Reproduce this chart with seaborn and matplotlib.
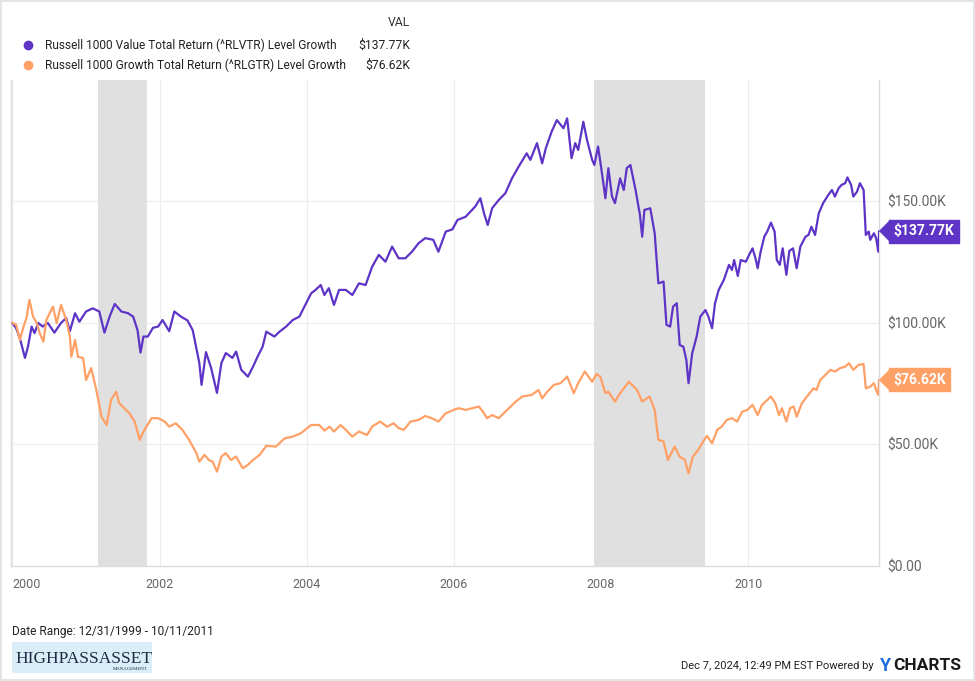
import pandas as pd
import seaborn as sns
import matplotlib.pyplot as plt
import matplotlib.transforms as mtransforms
from matplotlib.lines import Line2D
from matplotlib.patches import Rectangle

# levels in $K, dates as decimal years
value_years = [1999.997, 2000.05, 2000.10, 2000.17, 2000.21, 2000.26, 2000.30, 2000.35, 2000.41, 2000.48, 2000.57,
               2000.66, 2000.73, 2000.78, 2000.85, 2000.91, 2001.00, 2001.09, 2001.18, 2001.25, 2001.32, 2001.39,
               2001.48, 2001.57, 2001.64, 2001.70, 2001.74, 2001.78, 2001.84, 2001.91, 2001.98, 2002.04, 2002.13,
               2002.20, 2002.29, 2002.38, 2002.45, 2002.54, 2002.57, 2002.63, 2002.70, 2002.78, 2002.84, 2002.90,
               2002.99, 2003.04, 2003.11, 2003.20, 2003.27, 2003.33, 2003.40, 2003.45, 2003.56, 2003.63, 2003.72,
               2003.81, 2003.90, 2003.99, 2004.06, 2004.12, 2004.19, 2004.24, 2004.30, 2004.37, 2004.44, 2004.53,
               2004.62, 2004.71, 2004.80, 2004.89, 2004.98, 2005.07, 2005.16, 2005.25, 2005.34, 2005.43, 2005.52,
               2005.61, 2005.72, 2005.79, 2005.89, 2005.98, 2006.05, 2006.16, 2006.29, 2006.36, 2006.41, 2006.46,
               2006.52, 2006.61, 2006.70, 2006.79, 2006.88, 2006.99, 2007.04, 2007.13, 2007.20, 2007.25, 2007.33,
               2007.40, 2007.49, 2007.54, 2007.60, 2007.65, 2007.69, 2007.76, 2007.81, 2007.88, 2007.91, 2007.96,
               2008.00, 2008.06, 2008.10, 2008.15, 2008.19, 2008.26, 2008.31, 2008.35, 2008.40, 2008.47, 2008.53,
               2008.56, 2008.59, 2008.67, 2008.73, 2008.78, 2008.85, 2008.89, 2008.94, 2008.98, 2009.03, 2009.07,
               2009.12, 2009.16, 2009.19, 2009.24, 2009.30, 2009.35, 2009.42, 2009.46, 2009.51, 2009.55, 2009.60,
               2009.67, 2009.74, 2009.78, 2009.81, 2009.86, 2009.90, 2009.97, 2010.01, 2010.06, 2010.10, 2010.13,
               2010.17, 2010.22, 2010.26, 2010.31, 2010.36, 2010.39, 2010.43, 2010.47, 2010.52, 2010.56, 2010.61,
               2010.66, 2010.71, 2010.78, 2010.82, 2010.86, 2010.91, 2010.96, 2011.02, 2011.09, 2011.14, 2011.18,
               2011.23, 2011.27, 2011.32, 2011.35, 2011.40, 2011.43, 2011.48, 2011.52, 2011.57, 2011.60, 2011.64,
               2011.66, 2011.71, 2011.74, 2011.77, 2011.78]
value_levels = [100.0, 97.8, 93.7, 85.6, 90.2, 98.5, 95.8, 100.0, 98.5, 100.0, 96.0,
                100.0, 102.0, 96.6, 104.0, 100.5, 104.7, 106.0, 104.7, 96.0, 102.6, 107.8,
                104.7, 104.0, 102.6, 97.0, 87.8, 94.4, 94.4, 98.0, 98.5, 101.2, 96.6,
                104.7, 102.6, 101.0, 97.0, 83.5, 74.5, 88.0, 81.5, 71.2, 83.5, 87.6,
                85.6, 88.2, 80.7, 77.9, 82.0, 86.0, 90.2, 96.4, 94.4, 96.4, 98.5,
                101.2, 102.6, 108.0, 112.2, 113.6, 115.6, 111.5, 114.3, 107.4, 113.6, 113.6,
                111.5, 116.3, 115.6, 123.2, 128.0, 125.2, 131.4, 126.6, 126.6, 129.3, 132.8,
                134.9, 134.2, 129.3, 137.6, 138.5, 142.4, 143.7, 147.9, 151.3, 145.1, 140.3,
                147.2, 150.6, 153.4, 159.5, 164.3, 169.8, 167.1, 174.0, 165.7, 171.9, 178.8,
                183.5, 180.1, 184.2, 167.8, 174.0, 171.2, 182.8, 175.3, 167.1, 165.0, 172.6,
                164.4, 151.3, 163.7, 152.0, 149.3, 159.5, 154.7, 163.7, 165.0, 154.7, 144.4,
                135.5, 146.5, 147.2, 136.9, 116.3, 117.0, 99.2, 98.5, 106.7, 108.1, 90.9,
                90.2, 84.8, 75.2, 87.5, 94.4, 102.6, 105.3, 102.6, 97.8, 108.1, 113.6,
                117.7, 123.9, 121.8, 125.9, 119.3, 125.9, 125.2, 127.8, 130.7, 126.6, 122.5,
                129.3, 135.5, 137.6, 141.3, 137.6, 125.9, 123.9, 130.7, 119.8, 129.6, 130.7,
                122.5, 131.4, 135.5, 136.2, 139.6, 136.2, 145.1, 149.3, 152.7, 154.7, 152.0,
                155.4, 156.8, 157.5, 159.9, 156.8, 152.0, 154.0, 157.5, 154.7, 136.2, 137.6,
                134.2, 136.9, 134.9, 129.3, 137.77]

growth_years = [1999.997, 2000.05, 2000.10, 2000.15, 2000.19, 2000.23, 2000.28, 2000.33, 2000.37, 2000.42, 2000.46,
                2000.55, 2000.60, 2000.66, 2000.73, 2000.78, 2000.80, 2000.85, 2000.89, 2000.96, 2001.00, 2001.07,
                2001.14, 2001.21, 2001.28, 2001.34, 2001.41, 2001.45, 2001.52, 2001.59, 2001.66, 2001.73, 2001.77,
                2001.82, 2001.89, 2001.98, 2002.07, 2002.13, 2002.22, 2002.31, 2002.40, 2002.50, 2002.54, 2002.61,
                2002.67, 2002.72, 2002.78, 2002.84, 2002.90, 2002.97, 2003.04, 2003.13, 2003.20, 2003.27, 2003.36,
                2003.45, 2003.58, 2003.70, 2003.81, 2003.92, 2004.06, 2004.17, 2004.24, 2004.31, 2004.37, 2004.46,
                2004.53, 2004.62, 2004.71, 2004.82, 2004.89, 2005.00, 2005.09, 2005.18, 2005.25, 2005.32, 2005.41,
                2005.52, 2005.61, 2005.70, 2005.79, 2005.89, 2006.02, 2006.07, 2006.16, 2006.34, 2006.41, 2006.45,
                2006.52, 2006.61, 2006.70, 2006.84, 2006.93, 2007.06, 2007.15, 2007.20, 2007.27, 2007.36, 2007.45,
                2007.54, 2007.63, 2007.69, 2007.78, 2007.88, 2007.94, 2007.99, 2008.06, 2008.10, 2008.19, 2008.26,
                2008.38, 2008.49, 2008.56, 2008.66, 2008.73, 2008.78, 2008.85, 2008.91, 2009.00, 2009.07, 2009.14,
                2009.19, 2009.25, 2009.32, 2009.39, 2009.44, 2009.51, 2009.58, 2009.64, 2009.71, 2009.78, 2009.85,
                2009.92, 2009.99, 2010.06, 2010.13, 2010.19, 2010.26, 2010.31, 2010.37, 2010.42, 2010.46, 2010.52,
                2010.57, 2010.62, 2010.66, 2010.73, 2010.80, 2010.89, 2010.93, 2010.98, 2011.05, 2011.12, 2011.18,
                2011.25, 2011.32, 2011.37, 2011.43, 2011.50, 2011.57, 2011.60, 2011.66, 2011.71, 2011.74, 2011.77,
                2011.78]
growth_levels = [100.0, 99.2, 93.0, 98.5, 102.0, 109.5, 102.6, 99.9, 95.8, 92.3, 101.2,
                 106.7, 99.9, 107.4, 101.2, 94.4, 86.1, 93.0, 86.1, 85.5, 76.5, 81.4,
                 72.4, 61.4, 58.0, 68.3, 71.7, 67.0, 64.9, 62.8, 59.4, 51.9, 54.6,
                 57.3, 60.8, 60.8, 59.4, 57.3, 58.7, 56.0, 51.9, 46.4, 42.9, 45.7,
                 43.6, 42.9, 38.8, 45.0, 46.4, 43.6, 45.0, 40.2, 41.6, 43.6, 45.7,
                 49.4, 49.1, 52.5, 53.2, 54.6, 58.0, 58.0, 55.7, 57.3, 55.3, 58.0,
                 56.0, 53.2, 55.3, 53.9, 57.4, 59.4, 57.3, 58.7, 56.7, 56.0, 59.4,
                 60.1, 61.7, 60.8, 59.4, 62.8, 64.5, 64.9, 64.2, 65.6, 62.8, 60.8,
                 62.1, 60.8, 63.5, 67.6, 69.7, 70.4, 72.4, 69.0, 71.7, 74.5, 75.2,
                 77.9, 71.1, 75.2, 80.0, 75.8, 79.0, 77.9, 71.1, 71.7, 67.6, 71.1,
                 75.8, 72.4, 67.6, 69.7, 64.2, 51.9, 51.2, 43.6, 49.1, 45.0, 43.6,
                 38.1, 45.0, 47.7, 51.2, 53.5, 50.5, 56.0, 57.3, 60.1, 60.8, 59.4,
                 63.5, 64.2, 66.3, 62.1, 66.3, 68.3, 69.7, 66.9, 62.1, 64.9, 59.4,
                 64.9, 65.6, 61.4, 66.9, 69.7, 73.1, 72.4, 76.5, 78.6, 80.7, 80.0,
                 81.4, 82.0, 83.4, 80.7, 82.7, 83.1, 73.1, 73.8, 75.2, 72.4, 70.4,
                 76.62]

series_names = ["Russell 1000 Value Total Return (^RLVTR) Level Growth",
                "Russell 1000 Growth Total Return (^RLGTR) Level Growth"]
last_labels = ["$137.77K", "$76.62K"]
recessions = [(2001.16, 2001.83), (2007.91, 2009.41)]
year_ticks = [2000, 2002, 2004, 2006, 2008, 2010]
level_ticks = [0, 50, 100, 150]
colors = ["#5e34c7", "#ffa066"]

df = pd.concat([
    pd.DataFrame({"year": value_years, "level": value_levels, "series": series_names[0]}),
    pd.DataFrame({"year": growth_years, "level": growth_levels, "series": series_names[1]}),
])

sns.set_theme(style="white")
plt.rcParams['font.family'] = ['Roboto', 'DejaVu Sans']

fig = plt.figure(figsize=(9.75, 6.81), dpi=100)
fig.patch.set_edgecolor("#e4e4e4")
fig.patch.set_linewidth(1.5)
ax = fig.add_axes([0.0113, 0.169, 0.8903, 0.7136])

for start, end in recessions:
    ax.axvspan(start, end, color="#e0e0e0", lw=0, zorder=1)

sns.lineplot(data=df, x="year", y="level", hue="series", palette=colors, estimator=None,
             linewidth=1.6, legend=False, ax=ax, zorder=3)

ax.set_xlim(1999.98, 2011.78)
ax.set_ylim(0, 200)
ax.set_xticks(year_ticks)
ax.set_xticklabels([str(y) for y in year_ticks])
ax.get_xticklabels()[0].set_ha("left")
ax.set_yticks(level_ticks)
ax.set_yticklabels(["$0.00" if v == 0 else f"${v:.2f}K" for v in level_ticks])
ax.yaxis.tick_right()
ax.tick_params(axis="x", length=0, pad=9, labelsize=9, labelcolor="#666666")
ax.tick_params(axis="y", length=0, pad=6, labelsize=10, labelcolor="#666666")
ax.set_xlabel("")
ax.set_ylabel("")
ax.grid(True, color="#ededed", linewidth=0.9)
ax.set_axisbelow(True)
for side in ["left", "bottom", "right"]:
    ax.spines[side].set_color("#dcdcdc")
    ax.spines[side].set_linewidth(1)
ax.spines["top"].set_visible(False)

# last value tags
trans = mtransforms.blended_transform_factory(ax.transAxes, ax.transData)
tip = [(-1, 0), (0, 1), (0, -1)]
for level, label, c in zip([value_levels[-1], growth_levels[-1]], last_labels, colors):
    ax.plot([1.0125], [level], marker=tip, markersize=16, color=c, transform=trans, clip_on=False, zorder=5)
    ax.text(1.0165, level, label, transform=trans, va="center", ha="left", color="white",
            fontsize=10, fontweight="bold", zorder=6,
            bbox=dict(boxstyle="square,pad=0.32", fc=c, ec=c))

# legend table
fig.text(410 / 975, 1 - 22 / 681, "VAL", ha="right", va="center", fontsize=8.7, color="#333333")
for i, (name, label, c) in enumerate(zip(series_names, last_labels, colors)):
    y = 1 - (45 + 20 * i) / 681
    fig.add_artist(Line2D([28 / 975], [y], marker="o", markersize=6, color=c, ls=""))
    fig.text(45 / 975, y, name, ha="left", va="center", fontsize=8.6, color="#222222")
    fig.text(410 / 975, y, label, ha="right", va="center", fontsize=8.7, color="#222222")

# footer
fig.text(12 / 975, 1 - 632 / 681, "Date Range: 12/31/1999 - 10/11/2011", ha="left", va="center",
         fontsize=8.6, color="#222222")
fig.add_artist(Rectangle((12 / 975, 1 - 673 / 681), 140 / 975, 31 / 681, transform=fig.transFigure,
                         fc="#d9eef9", ec="none"))
fig.text(15 / 975, 1 - 659 / 681, "HIGHPASSASSET", ha="left", va="center", fontsize=12.5,
         family="Liberation Serif", color="#1f2a44")
fig.text(148 / 975, 1 - 669 / 681, "MANAGEMENT", ha="right", va="center", fontsize=3.5,
         family="Liberation Serif", color="#1f2a44")
fig.text(874 / 975, 1 - 666 / 681, "Dec 7, 2024, 12:49 PM EST Powered by", ha="right", va="center",
         fontsize=8.0, color="#222222")
fig.text(880 / 975, 1 - 666 / 681, "Y", ha="left", va="center", fontsize=13, fontweight="bold", color="#1e6fe0")
fig.text(893 / 975, 1 - 666 / 681, "CHARTS", ha="left", va="center", fontsize=12.5, fontweight="bold",
         color="#1a1a1a")

fig.savefig("out.png", dpi=100)
